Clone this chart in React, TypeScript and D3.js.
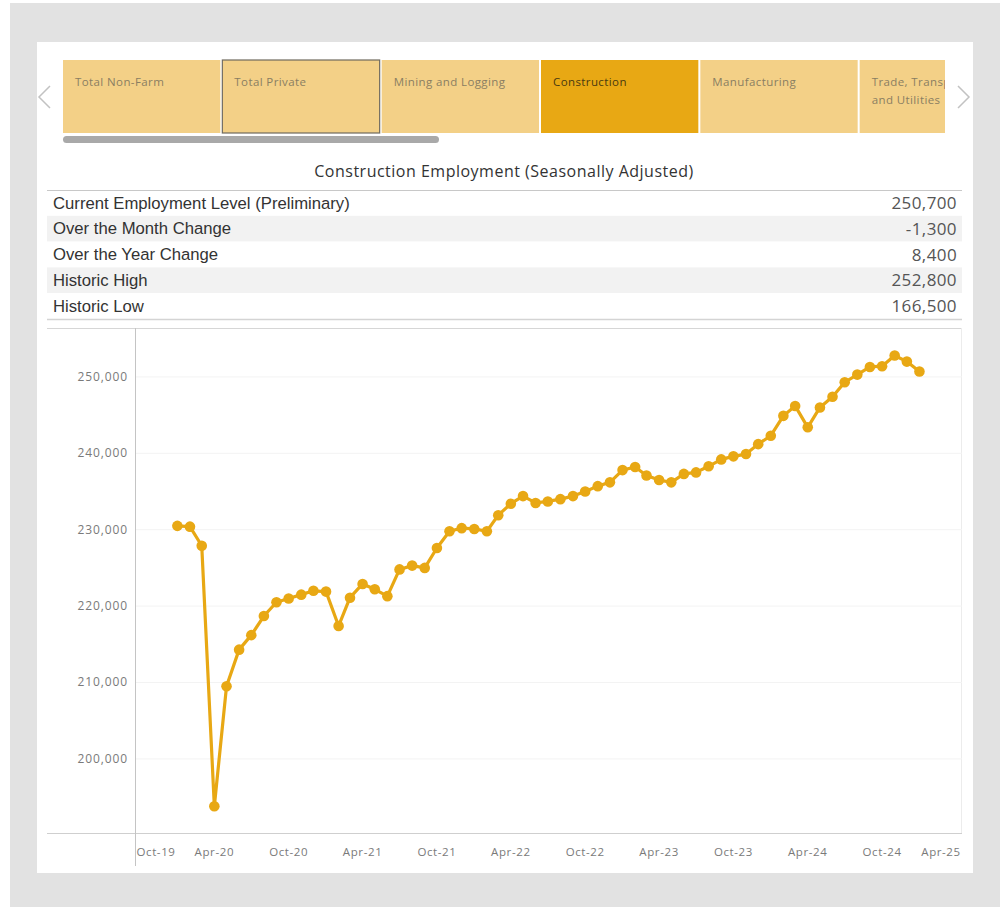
import React from 'react';
import * as d3 from 'd3';

// tabs along the top
const tabNames = [
  ['Total Non-Farm'],
  ['Total Private'],
  ['Mining and Logging'],
  ['Construction'],
  ['Manufacturing'],
  ['Trade, Transportation', 'and Utilities'],
];
const activeTab = 'Construction';
const outlinedTab = 'Total Private';

const chartTitle = 'Construction Employment (Seasonally Adjusted)';

// summary table
const statLabels = [
  'Current Employment Level (Preliminary)',
  'Over the Month Change',
  'Over the Year Change',
  'Historic High',
  'Historic Low',
];
const statValues = ['250,700', '-1,300', '8,400', '252,800', '166,500'];

// monthly series, Jan 2020 - Jan 2025
const startMonth = new Date(2020, 0, 1);
const employment = [
  230500, 230400, 227900, 193800, 209500, 214300, 216200, 218700, 220500, 221000, 221500, 222000,
  221900, 217400, 221100, 222900, 222200, 221300, 224800, 225300, 225000, 227600, 229800, 230200,
  230100, 229800, 231900, 233400, 234400, 233500, 233700, 234000, 234400, 235000, 235700, 236200,
  237800, 238200, 237100, 236500, 236200, 237300, 237500, 238300, 239200, 239600, 239900, 241200,
  242300, 244900, 246200, 243400, 246000, 247400, 249300, 250300, 251300, 251400, 252800, 252000,
  250700,
];

const yTicks = [200000, 210000, 220000, 230000, 240000, 250000];
const xTickDates = [
  new Date(2019, 9, 1), new Date(2020, 3, 1), new Date(2020, 9, 1), new Date(2021, 3, 1),
  new Date(2021, 9, 1), new Date(2022, 3, 1), new Date(2022, 9, 1), new Date(2023, 3, 1),
  new Date(2023, 9, 1), new Date(2024, 3, 1), new Date(2024, 9, 1), new Date(2025, 3, 1),
];

const tableauFont = '"Open Sans", "Noto Sans", sans-serif';
const gold = '#e8a814';

export default function App() {
  const data = employment.map((v, i) => ({
    date: d3.timeMonth.offset(startMonth, i),
    value: v,
  }));

  // plot frame
  const left = 135;
  const right = 962;
  const top = 328;
  const bottom = 833;

  const x = d3.scaleTime()
    .domain([new Date(2019, 9, 1), new Date(2025, 3, 1)])
    .range([140, 956]);
  const y = d3.scaleLinear()
    .domain([190300, 256400])
    .range([bottom, top]);

  const line = d3.line<{ date: Date; value: number }>()
    .x(d => x(d.date))
    .y(d => y(d.value));

  const yFmt = d3.format(',');
  const xFmt = d3.timeFormat('%b-%y');

  const tabX = d3.scaleBand<number>()
    .domain(d3.range(tabNames.length))
    .range([63, 63 + 159 * tabNames.length])
    .paddingInner(2 / 159);

  const rowY = d3.scaleBand<number>()
    .domain(d3.range(statLabels.length))
    .range([190, 319]);

  return (
    <svg width={1000} height={907} style={{ position: 'absolute', left: 0, top: 0 }}>
      <rect x={0} y={0} width={1000} height={907} fill="#fff" />
      <rect x={10} y={3} width={990} height={904} fill="#e2e2e2" />
      <rect x={37} y={42} width={936} height={831} fill="#fff" />

      {/* tab strip */}
      <defs>
        <clipPath id="tabclip">
          <rect x={63} y={55} width={882} height={85} />
        </clipPath>
      </defs>
      <g clipPath="url(#tabclip)">
        {tabNames.map((lines, i) => {
          const name = lines.join(' ');
          const active = name === activeTab;
          return (
            <g key={name}>
              <rect
                x={tabX(i)}
                y={60}
                width={tabX.bandwidth()}
                height={73}
                fill={active ? gold : '#f3d087'}
                stroke={name === outlinedTab ? '#6f6a5e' : 'none'}
                strokeWidth={1.2}
              />
              {lines.map((t, j) => (
                <text
                  key={t}
                  x={(tabX(i) || 0) + 12}
                  y={86 + j * 18}
                  fontFamily={tableauFont}
                  fontSize={11.5}
                  letterSpacing={0.4}
                  fill={active ? '#4a3a10' : '#8a7e62'}
                >
                  {t}
                </text>
              ))}
            </g>
          );
        })}
      </g>
      <path d="M50,86 L39,97 L50,108" fill="none" stroke="#c2c2c2" strokeWidth={1.5} />
      <path d="M958,86 L969,97 L958,108" fill="none" stroke="#c2c2c2" strokeWidth={1.5} />
      <rect x={63} y={136} width={376} height={7} rx={3.5} fill="#a9a9a9" />

      {/* title */}
      <text
        x={504}
        y={177}
        textAnchor="middle"
        fontFamily={tableauFont}
        fontSize={16}
        letterSpacing={0.5}
        fill="#333"
      >
        {chartTitle}
      </text>

      {/* summary table */}
      {statLabels.map((label, i) => {
        const ry = rowY(i) || 0;
        return (
          <g key={label}>
            <rect x={47} y={ry} width={915} height={rowY.bandwidth()} fill={i % 2 ? '#f2f2f2' : '#fff'} />
            <text
              x={53}
              y={ry + 18.5}
              fontFamily='"Liberation Sans", Arial, sans-serif'
              fontSize={16.7}
              fill="#333"
            >
              {label}
            </text>
            <text
              x={957}
              y={ry + 19}
              textAnchor="end"
              fontFamily={tableauFont}
              fontSize={17}
              letterSpacing={0.4}
              fill="#555"
            >
              {statValues[i]}
            </text>
          </g>
        );
      })}
      <line x1={47} x2={962} y1={190.5} y2={190.5} stroke="#c8c8c8" />
      <line x1={47} x2={962} y1={319.5} y2={319.5} stroke="#d4d4d4" strokeWidth={1.5} />

      {/* chart frame */}
      <line x1={47} x2={962} y1={top + 0.5} y2={top + 0.5} stroke="#d6d6d6" />
      <line x1={right - 0.5} x2={right - 0.5} y1={top} y2={bottom} stroke="#ececec" />
      {yTicks.map(t => (
        <g key={t}>
          <line x1={left} x2={right} y1={y(t)} y2={y(t)} stroke="#f3f3f3" />
          <text
            x={128}
            y={y(t) + 4}
            textAnchor="end"
            fontFamily={tableauFont}
            fontSize={12}
            letterSpacing={0.9}
            fill="#7a7a7a"
          >
            {yFmt(t)}
          </text>
        </g>
      ))}
      <line x1={47} x2={right} y1={bottom + 0.5} y2={bottom + 0.5} stroke="#cfcfcf" />
      <line x1={left + 0.5} x2={left + 0.5} y1={top} y2={866} stroke="#c4c4c4" />
      {xTickDates.map(d => {
        const cx = Math.max(left + 21, Math.min(right - 21, x(d)));
        return (
          <text
            key={d.getTime()}
            x={cx}
            y={856}
            textAnchor="middle"
            fontFamily={tableauFont}
            fontSize={11.5}
            letterSpacing={0.6}
            fill="#7a7a7a"
          >
            {xFmt(d)}
          </text>
        );
      })}

      {/* series */}
      <path d={line(data) || ''} fill="none" stroke={gold} strokeWidth={3.2} strokeLinejoin="round" />
      {data.map(d => (
        <circle key={d.date.getTime()} cx={x(d.date)} cy={y(d.value)} r={5.3} fill={gold} />
      ))}
    </svg>
  );
}
